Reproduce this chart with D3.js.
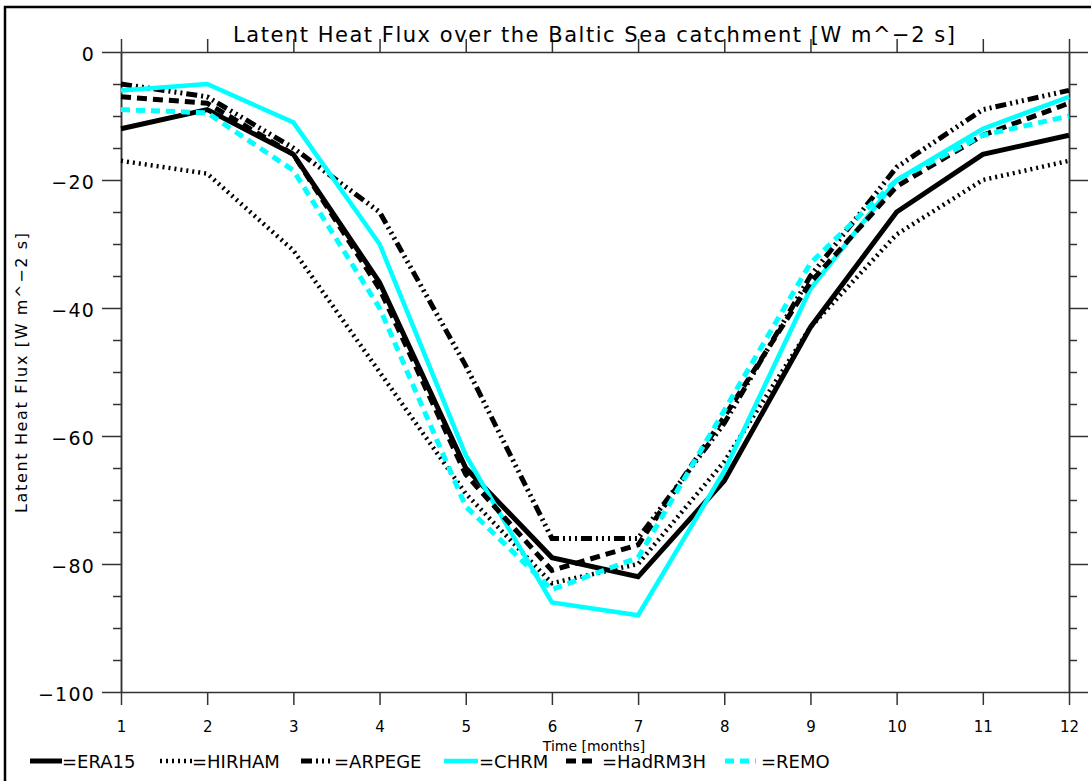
<!DOCTYPE html>
<html>
<head>
<meta charset="utf-8">
<script src="https://cdn.jsdelivr.net/npm/d3@7"></script>
<style>
  body { margin: 0; background: #fff; }
  svg { display: block; font-family: "DejaVu Sans", "Liberation Sans", sans-serif; }
</style>
</head>
<body>
<div id="chart"></div>
<script>
// monthly values
const months = [1, 2, 3, 4, 5, 6, 7, 8, 9, 10, 11, 12];
const era15   = [-12, -9, -16, -36, -65, -79, -82, -67, -43, -25, -16, -13];
const hirham  = [-17, -19, -31, -50, -69, -83, -80, -64, -43, -28.5, -20, -17];
const arpege  = [-5, -7, -15, -25, -49, -76, -76, -58, -35, -18, -9, -6];
const chrm    = [-6, -5, -11, -30, -63, -86, -88, -65.5, -37, -20, -12, -7];
const hadrm3h = [-7, -8, -16, -37, -66, -81, -77, -57, -36, -21, -13, -8];
const remo    = [-9, -9.5, -18.5, -40, -71, -84, -79, -56, -33, -20, -13, -10];
const seriesNames = ["ERA15", "HIRHAM", "ARPEGE", "CHRM", "HadRM3H", "REMO"];
const yMajor = [0, -20, -40, -60, -80, -100];
const yMinor = d3.range(-100, 1, 5).filter(v => v % 20 !== 0);

const width = 1091, height = 781;
const margin = {top: 52, right: 22, bottom: 89, left: 121};

const styles = {
  ERA15:   {color: "#000", w: 5,   dash: null},
  HIRHAM:  {color: "#000", w: 4.5, dash: "2,4"},
  ARPEGE:  {color: "#000", w: 5,   dash: "11,4,2,4,2,4,2,4"},
  CHRM:    {color: "#00ffff", w: 4.5, dash: null},
  HadRM3H: {color: "#000", w: 5,   dash: "10,6"},
  REMO:    {color: "#00ffff", w: 5, dash: "9,6"}
};
const values = [era15, hirham, arpege, chrm, hadrm3h, remo];

const x = d3.scaleLinear().domain([1, 12]).range([margin.left, width - margin.right]);
const y = d3.scaleLinear().domain([-100, 0]).range([height - margin.bottom, margin.top]);

const svg = d3.select("#chart").append("svg")
  .attr("width", width)
  .attr("height", height);

// outer frame
svg.append("rect")
  .attr("x", 5).attr("y", 7)
  .attr("width", width + 20).attr("height", height + 20)
  .attr("fill", "none").attr("stroke", "#000").attr("stroke-width", 2.5);

const axisColor = "#333";
const styleAxis = g => g
  .call(g => g.select(".domain").attr("stroke", axisColor).attr("stroke-width", 1.5))
  .call(g => g.selectAll(".tick line").attr("stroke", axisColor).attr("stroke-width", 1.5));

// left axis: minor then major
svg.append("g")
  .attr("transform", `translate(${margin.left},0)`)
  .call(d3.axisLeft(y).tickValues(yMinor).tickSize(8).tickSizeOuter(0).tickFormat(""))
  .call(styleAxis);
svg.append("g")
  .attr("transform", `translate(${margin.left},0)`)
  .call(d3.axisLeft(y).tickValues(yMajor).tickSize(19).tickSizeOuter(0).tickPadding(7)
    .tickFormat(d => d === 0 ? "0" : "\u2212" + Math.abs(d)))
  .call(styleAxis)
  .call(g => g.selectAll("text")
    .style("font-family", "'DejaVu Sans', sans-serif")
    .style("font-size", "19px")
    .style("letter-spacing", "1.2px")
    .attr("dy", "0.45em")
    .attr("fill", "#000"));

// right axis
svg.append("g")
  .attr("transform", `translate(${width - margin.right},0)`)
  .call(d3.axisRight(y).tickValues(yMinor).tickSize(8).tickSizeOuter(0).tickFormat(""))
  .call(styleAxis);
svg.append("g")
  .attr("transform", `translate(${width - margin.right},0)`)
  .call(d3.axisRight(y).tickValues(yMajor).tickSize(19).tickSizeOuter(0).tickFormat(""))
  .call(styleAxis);

// top axis
svg.append("g")
  .attr("transform", `translate(0,${margin.top})`)
  .call(d3.axisTop(x).tickValues(months).tickSize(13).tickSizeOuter(0).tickFormat(""))
  .call(styleAxis);

// bottom axis
svg.append("g")
  .attr("transform", `translate(0,${height - margin.bottom})`)
  .call(d3.axisBottom(x).tickValues(months).tickSize(13).tickSizeOuter(0).tickPadding(16))
  .call(styleAxis)
  .call(g => g.selectAll("text")
    .style("font-family", "'DejaVu Sans', sans-serif")
    .style("font-size", "15px")
    .attr("fill", "#000"));

// title
svg.append("text")
  .attr("x", 233).attr("y", 42)
  .attr("font-size", 21)
  .attr("textLength", 722).attr("lengthAdjust", "spacing")
  .text("Latent Heat Flux over the Baltic Sea catchment [W m^\u22122 s]");

// y label
svg.append("text")
  .attr("transform", "translate(27,373) rotate(-90)")
  .attr("text-anchor", "middle")
  .attr("font-size", 16)
  .attr("textLength", 280).attr("lengthAdjust", "spacing")
  .text("Latent Heat Flux [W m^\u22122 s]");

// x label
svg.append("text")
  .attr("x", 594).attr("y", 751)
  .attr("text-anchor", "middle")
  .attr("font-size", 14)
  .text("Time [months]");

// lines
const line = d3.line().x((d, i) => x(months[i])).y(d => y(d));
const plot = svg.append("g").attr("fill", "none").attr("stroke-linejoin", "miter");
seriesNames.forEach((name, k) => {
  const s = styles[name];
  plot.append("path")
    .datum(values[k])
    .attr("d", line)
    .attr("stroke", s.color)
    .attr("stroke-width", s.w)
    .attr("stroke-dasharray", s.dash);
});

// legend
const legendPos = [
  {x0: 30, x1: 62, tx: 62},
  {x0: 160, x1: 192, tx: 192},
  {x0: 301, x1: 334, tx: 334},
  {x0: 444, x1: 478, tx: 479},
  {x0: 566, x1: 594, tx: 602},
  {x0: 725, x1: 756, tx: 761}
];
const legend = svg.append("g");
seriesNames.forEach((name, k) => {
  const s = styles[name], p = legendPos[k];
  legend.append("line")
    .attr("x1", p.x0).attr("x2", p.x1).attr("y1", 761).attr("y2", 761)
    .attr("stroke", s.color).attr("stroke-width", s.w)
    .attr("stroke-dasharray", s.dash);
  legend.append("text")
    .attr("x", p.tx).attr("y", 768)
    .attr("font-size", 18)
    .text("=" + name);
});
</script>
</body>
</html>
